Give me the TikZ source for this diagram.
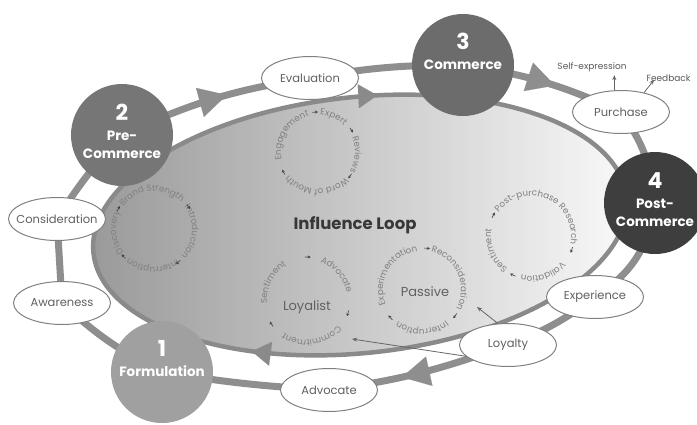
\documentclass[tikz,border=0pt]{standalone}
\usepackage{fontspec}
\setmainfont{Poppins}
\usetikzlibrary{shapes.geometric,arrows.meta,decorations.markings,decorations.text,backgrounds}

\definecolor{trackgray}{HTML}{8E8E8E}
\definecolor{rimgray}{HTML}{8A8A8A}
\definecolor{labelgray}{HTML}{606060}
\definecolor{loopgray}{HTML}{808080}
\definecolor{stageone}{HTML}{A0A0A0}
\definecolor{stagetwo}{HTML}{767676}
\definecolor{stagethree}{HTML}{6C6C6C}
\definecolor{stagefour}{HTML}{3E3E3E}

\newcommand{\numfont}{\fontsize{22}{22}\selectfont}
\newcommand{\loopfont}{\fontsize{8.8}{9}\selectfont\color{loopgray}}
\newcommand{\looplabel}[4]{\path[decorate, decoration={text along path, text align=center, text={|\loopfont|#4}}] (#1) ++({#3+88}:#2) arc[start angle=#3+88, end angle=#3-88, radius=#2];}
\newcommand{\looparrow}[3]{\draw[looptip] (#1) ++({#3+4}:#2) arc[start angle=#3+4, end angle=#3-4, radius=#2];}

\tikzset{stage/.style={circle, minimum size=102pt, inner sep=0pt}}
\tikzset{stagetext/.style={text=white, align=center, font=\bfseries\fontsize{13.5}{18}\selectfont}}
\tikzset{touch/.style={ellipse, draw=black!50, line width=1pt, fill=white, minimum width=97pt, minimum height=43pt, inner xsep=-7pt, inner ysep=0pt, text=labelgray, font=\fontsize{11.5}{13}\selectfont}}
\tikzset{track/.style={draw=trackgray, line width=7pt}}
\tikzset{flow/.style={postaction={decorate}, decoration={markings, mark=at position #1 with {\arrow{Triangle[length=28pt,width=30pt,line width=0.1pt,color=trackgray,fill=trackgray]}}}}}
\tikzset{rim/.style={draw=rimgray, line width=4.5pt, left color=black!40, right color=black!2}}
\tikzset{rimflow/.style 2 args={postaction={decorate}, decoration={markings,
	mark=at position #1 with {\arrowreversed{Triangle[length=19pt,width=24pt,line width=0.1pt,color=rimgray,fill=rimgray]}},
	mark=at position #2 with {\arrowreversed{Triangle[length=19pt,width=24pt,line width=0.1pt,color=rimgray,fill=rimgray]}}}}}
\tikzset{looptip/.style={-{Stealth[length=3pt,width=3pt]}, line width=0.6pt, draw=black!75}}
\tikzset{pointer/.style={-{Stealth[length=5pt,width=4pt]}, line width=0.8pt, draw=black!60}}
\tikzset{note/.style={text=black!65, font=\fontsize{9}{11}\selectfont}}
\tikzset{loopname/.style={text=black!62, font=\fontsize{13}{15}\selectfont}}

\begin{document}
\begin{tikzpicture}[x=1pt,y=1pt]
	\useasboundingbox (0,0) rectangle (697,-424);
	\clip (0,0) rectangle (697,-424);

	% stages
	\node[stage, fill=stageone] (c1) at (162,-372) {};
	\node[stage, fill=stagetwo] (c2) at (122,-135) {};
	\node[stage, fill=stagethree] (c3) at (463,-65) {};
	\node[stage, fill=stagefour] (c4) at (655,-203) {};
	\node[stagetext] (c1text) at ([yshift=13pt]c1.center) {{\numfont 1}\\[2pt]Formulation};
	\node[stagetext] (c2text) at ([yshift=4pt]c2.center) {{\numfont 2}\\[2pt]Pre-\\Commerce};
	\node[stagetext] (c3text) at ([yshift=14pt]c3.center) {{\numfont 3}\\[2pt]Commerce};
	\node[stagetext] (c4text) at ([yshift=3pt]c4.center) {{\numfont 4}\\[2pt]Post-\\Commerce};

	% touchpoints
	\node[touch] (eval) at (310,-78) {Evaluation};
	\node[touch] (purch) at (621,-112) {Purchase};
	\node[touch] (consid) at (57,-219) {Consideration};
	\node[touch] (aware) at (62,-303) {Awareness};
	\node[touch] (advoc) at (329,-390) {Advocate};
	\node[touch] (loyal) at (508,-345) {Loyalty};
	\node[touch] (exper) at (595,-297) {Experience};

	\begin{pgfonlayer}{background}
		\coordinate (loopc) at (360,-225);
		\draw[rim, rimflow={0.226}{0.655}, rotate around={6:(loopc)}] (loopc) ellipse [x radius=268pt, y radius=128pt];
		\draw[track] (c1.center) to[bend left=8] (aware.center);
		\draw[track] (aware.center) -- (consid.center);
		\draw[track] (consid.center) to[bend left=5] (c2.center);
		\draw[track, flow=0.57] (c2.center) to[bend left=8] (eval.center);
		\draw[track] (eval.center) to[bend left=5] (c3.center);
		\draw[track, flow=0.57] (c3.center) to[bend left=8] (purch.center);
		\draw[track] (purch.center) to[bend left=15] (c4.center);
		\draw[track] (c4.center) to[bend left=25] (exper.center);
		\draw[track] (exper.center) to[bend left=8] (loyal.center);
		\draw[track, flow=0.6] (loyal.center) to[bend left=6] (advoc.center);
		\draw[track] (advoc.center) to[bend left=3] (c1.center);
	\end{pgfonlayer}

	\node[text=black!78, font=\bfseries\fontsize{16.5}{18}\selectfont] (influence) at (355,-225) {Influence Loop};

	% loops
	\coordinate (wom) at (318,-152);
	\coordinate (brand) at (154,-229);
	\coordinate (loyalist) at (307,-300);
	\coordinate (passive) at (422,-290);
	\coordinate (postbuy) at (531,-236);

	\looplabel{wom}{37}{148}{Engagement}
	\looplabel{wom}{37}{66}{Expert}
	\looplabel{wom}{37}{-4}{Reviews}
	\looplabel{wom}{37}{-92}{Word of Mouth}
	\looparrow{wom}{40}{94}
	\looparrow{wom}{40}{33}
	\looparrow{wom}{40}{-37}
	\looparrow{wom}{40}{-150}

	\looplabel{brand}{38}{94}{Brand Strength}
	\looplabel{brand}{38}{-4}{Introduction}
	\looplabel{brand}{38}{-92}{Interruption}
	\looplabel{brand}{38}{185}{Discovery}
	\looparrow{brand}{41}{150}
	\looparrow{brand}{41}{33}
	\looparrow{brand}{41}{-54}
	\looparrow{brand}{41}{-138}

	\node[loopname] (loyalistname) at (307,-307) {Loyalist};
	\looplabel{loyalist}{40}{153}{Sentiment}
	\looplabel{loyalist}{40}{40}{Advocate}
	\looplabel{loyalist}{40}{-82}{Commitment}
	\looparrow{loyalist}{43}{89}
	\looparrow{loyalist}{43}{-18}
	\looparrow{loyalist}{43}{-146}

	\node[loopname] (passivename) at (425,-292) {Passive};
	\looplabel{passive}{39}{149}{Experimentation}
	\looplabel{passive}{39}{24}{Reconsideration}
	\looplabel{passive}{39}{-90}{Interruption}
	\looparrow{passive}{42}{83}
	\looparrow{passive}{42}{-38}
	\looparrow{passive}{42}{-139}

	\looplabel{postbuy}{40}{66}{Post-purchase Research}
	\looplabel{postbuy}{40}{-72}{Validation}
	\looplabel{postbuy}{40}{202}{Sentiment}
	\looparrow{postbuy}{43}{151}
	\looparrow{postbuy}{43}{-19}
	\looparrow{postbuy}{43}{-115}

	% purchase outcomes
	\node[note] (selfexp) at (592,-67) {Self-expression};
	\node[note, anchor=west] (feedback) at (643,-78) {Feedback};
	\draw[pointer] (purch.107) -- (selfexp.south -| purch.107);
	\draw[pointer] (purch.40) -- ++(10,13);

	% loyalty feeds the loops
	\coordinate (passivein) at (477,-307);
	\coordinate (commitin) at (352,-339);
	\draw[pointer] (loyal.115) -- (passivein);
	\draw[pointer] (loyal.195) -- (commitin);
\end{tikzpicture}
\end{document}
